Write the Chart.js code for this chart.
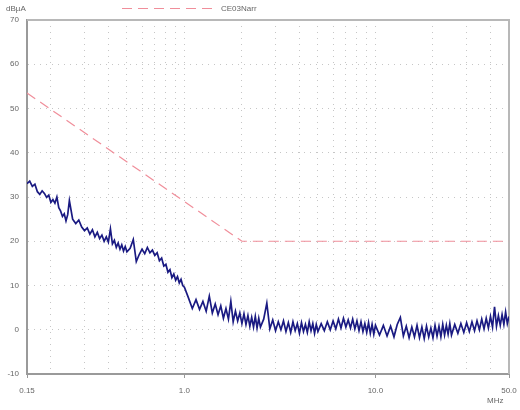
<!DOCTYPE html>
<html><head><meta charset="utf-8">
<script src="https://cdn.jsdelivr.net/npm/chart.js@4.4.0/dist/chart.umd.min.js"></script>
<style>html,body{margin:0;padding:0;background:#fff;}#wrap{width:520px;height:410px;position:relative;}</style>
</head><body><div id="wrap"><canvas id="c" width="520" height="410"></canvas></div>
<script>
// Measured trace (MHz / dBµA)
const freqMHz = [
 0.150,0.155,0.160,0.165,0.170,0.175,0.180,0.185,0.190,0.195,0.200,0.205,0.210,0.215,0.220,0.225,0.230,0.235,0.240,0.245,0.250,
 0.26,0.27,0.28,0.29,0.30,0.31,0.32,0.33,0.34,0.35,0.36,0.37,0.38,0.39,0.40,0.41,0.42,0.43,0.44,0.45,0.46,0.47,0.48,0.49,0.50,
 0.52,0.54,0.56,0.58,0.60,0.62,0.64,0.66,0.68,0.70,0.72,0.74,0.76,0.78,0.80,0.82,0.84,0.86,0.88,0.90,0.92,0.94,0.96,0.98,1.00,
 1.05,1.10,1.15,1.20,1.25,1.30,1.35,1.40,1.45,1.50,1.55,1.60,1.65,1.70,1.75,1.80,1.85,1.90,1.95,2.00,2.05,2.10,2.15,2.20,2.25,2.30,2.35,2.40,2.45,2.50,
 2.6,2.7,2.8,2.9,3.0,3.1,3.2,3.3,3.4,3.5,3.6,3.7,3.8,3.9,4.0,4.1,4.2,4.3,4.4,4.5,4.6,4.7,4.8,4.9,5.0,
 5.2,5.4,5.6,5.8,6.0,6.2,6.4,6.6,6.8,7.0,7.2,7.4,7.6,7.8,8.0,8.2,8.4,8.6,8.8,9.0,9.2,9.4,9.6,9.8,10.0,
 10.5,11.0,11.5,12.0,12.5,13.0,13.5,14.0,14.5,15.0,15.5,16.0,16.5,17.0,17.5,18.0,18.5,19.0,19.5,20.0,20.5,21.0,21.5,22.0,22.5,23.0,23.5,24.0,24.5,25.0,
 26,27,28,29,30,31,32,33,34,35,36,37,38,39,40,41,42,43,44,45,46,47,48,49,50
];
const levelDbuA = [
 33.0,33.6,32.4,32.9,31.2,30.6,31.4,30.8,29.9,30.4,28.8,29.4,28.6,30.0,27.6,26.8,25.6,26.2,24.6,26.0,29.2,
 25.0,24.0,24.8,23.2,22.4,23.0,21.6,22.6,21.0,22.0,20.6,21.4,20.0,21.0,19.8,22.8,19.4,20.2,18.6,19.6,18.2,19.2,17.8,18.8,17.6,
 18.4,20.4,15.4,17.0,18.2,17.2,18.6,17.4,18.0,16.8,17.4,15.6,16.2,14.4,14.8,13.0,13.6,11.8,12.6,11.2,12.0,10.6,11.4,10.0,9.6,
 7.2,4.8,6.8,4.6,6.4,4.2,7.6,3.8,5.8,3.4,5.4,2.6,4.8,2.4,6.4,1.8,4.2,2.0,3.8,1.4,3.6,1.2,3.2,0.8,2.8,0.6,3.0,0.4,2.6,0.6,
 2.4,6.0,0.2,2.2,-0.2,1.8,0.0,2.0,-0.4,1.6,-0.6,1.8,-0.2,1.4,-0.8,1.6,-0.4,1.2,-0.6,1.8,-0.2,1.4,-0.8,1.2,-0.4,
 1.4,-0.2,1.8,0.0,2.0,0.2,2.4,0.4,2.6,0.6,2.2,0.4,2.4,0.2,2.0,-0.2,1.8,-0.4,1.4,-0.6,1.6,-0.8,1.2,-1.0,1.0,
 -1.2,1.0,-1.4,0.8,-1.6,1.2,2.8,-1.4,0.8,-1.8,0.6,-1.6,1.0,-1.8,0.6,-2.0,0.8,-1.6,0.4,-1.8,1.0,-1.4,0.8,-1.6,1.2,-1.2,1.0,-1.0,1.4,-1.2,
 1.2,-0.8,1.4,-0.6,1.6,-0.4,1.8,-0.2,2.0,0.0,2.4,0.2,2.6,0.4,3.0,0.6,5.2,0.8,3.2,1.0,3.4,1.2,4.0,1.4,3.0
];
// Limit line
const limitName = 'CE03Narr';
const limitFreqMHz = [0.15, 2.0, 50];
const limitDbuA = [53.5, 20, 20];
// Axes
const yTicks = [-10, 0, 10, 20, 30, 40, 50, 60, 70];
const xGridMHz = [0.15,0.2,0.3,0.4,0.5,0.6,0.7,0.8,0.9,1,2,3,4,5,6,7,8,9,10,20,30,40,50];
const xTickLabels = {'0.15':'0.15','1':'1.0','10':'10.0','50':'50.0'};
const yUnit = 'dBµA';
const xUnit = 'MHz';

const FONT = '"Liberation Sans", Arial, sans-serif';

const extrasPlugin = {
  id: 'extras',
  beforeDatasetsDraw(chart) {
    const {ctx, chartArea: a} = chart;
    ctx.save();
    ctx.strokeStyle = '#b8b8b8';
    ctx.lineWidth = 2;
    ctx.beginPath();
    ctx.moveTo(a.left, a.top); ctx.lineTo(a.right, a.top); ctx.lineTo(a.right, a.bottom);
    ctx.stroke();
    ctx.restore();
  },
  afterDraw(chart) {
    const {ctx} = chart;
    ctx.save();
    ctx.font = '8px ' + FONT;
    ctx.fillStyle = '#666';
    ctx.textBaseline = 'middle';
    ctx.textAlign = 'left';
    ctx.fillText(yUnit, 6, 9);
    ctx.fillText(xUnit, 487, 401);
    // legend
    const ds = chart.data.datasets[1];
    ctx.strokeStyle = ds.borderColor;
    ctx.lineWidth = 1;
    ctx.setLineDash(ds.borderDash);
    ctx.beginPath(); ctx.moveTo(122, 8.5); ctx.lineTo(212, 8.5); ctx.stroke();
    ctx.setLineDash([]);
    ctx.fillText(ds.label, 221, 9);
    ctx.restore();
  }
};

new Chart(document.getElementById('c'), {
  type: 'line',
  data: {
    datasets: [
      {
        label: 'Measured',
        data: freqMHz.map((f, i) => ({x: f, y: levelDbuA[i]})),
        borderColor: '#1a1a82',
        borderWidth: 1.7,
        pointRadius: 0,
        tension: 0,
        order: 1
      },
      {
        label: limitName,
        data: limitFreqMHz.map((f, i) => ({x: f, y: limitDbuA[i]})),
        borderColor: '#f08e9a',
        borderWidth: 1.2,
        borderDash: [10, 6],
        pointRadius: 0,
        tension: 0,
        order: 0
      }
    ]
  },
  options: {
    responsive: false,
    animation: false,
    devicePixelRatio: 1,
    layout: {padding: {top: 20, right: 11, left: 0, bottom: 0}},
    plugins: {legend: {display: false}, tooltip: {enabled: false}},
    scales: {
      x: {
        type: 'logarithmic',
        min: 0.15, max: 50,
        afterBuildTicks: s => { s.ticks = xGridMHz.map(v => ({value: v})); },
        afterFit: s => { s.height = 36; s.paddingLeft = 0; s.paddingRight = 0; },
        ticks: {
          autoSkip: false, maxRotation: 0, minRotation: 0, padding: 8,
          color: '#666', font: {size: 8, family: FONT},
          callback: v => xTickLabels[String(v)] || ''
        },
        grid: {
          color: c => (c.tick && (c.tick.value === 0.15 || c.tick.value === 50)) ? 'rgba(0,0,0,0)' : '#c6c6c6',
          lineWidth: 1,
          tickLength: 4,
          tickColor: c => (c.tick && xTickLabels[String(c.tick.value)]) ? '#999' : 'rgba(0,0,0,0)'
        },
        border: {display: true, color: '#9a9a9a', width: 2, dash: [1, 5]}
      },
      y: {
        min: -10, max: 70,
        afterBuildTicks: s => { s.ticks = yTicks.map(v => ({value: v})); },
        afterFit: s => { s.width = 27; },
        ticks: {
          padding: 8, color: '#666', font: {size: 8, family: FONT},
          callback: v => String(v)
        },
        grid: {
          color: c => (c.tick && (c.tick.value === -10 || c.tick.value === 70)) ? 'rgba(0,0,0,0)' : '#c6c6c6',
          lineWidth: 1,
          drawTicks: false
        },
        border: {display: true, color: '#9a9a9a', width: 2, dash: [1, 5]}
      }
    }
  },
  plugins: [extrasPlugin]
});
</script></body></html>
